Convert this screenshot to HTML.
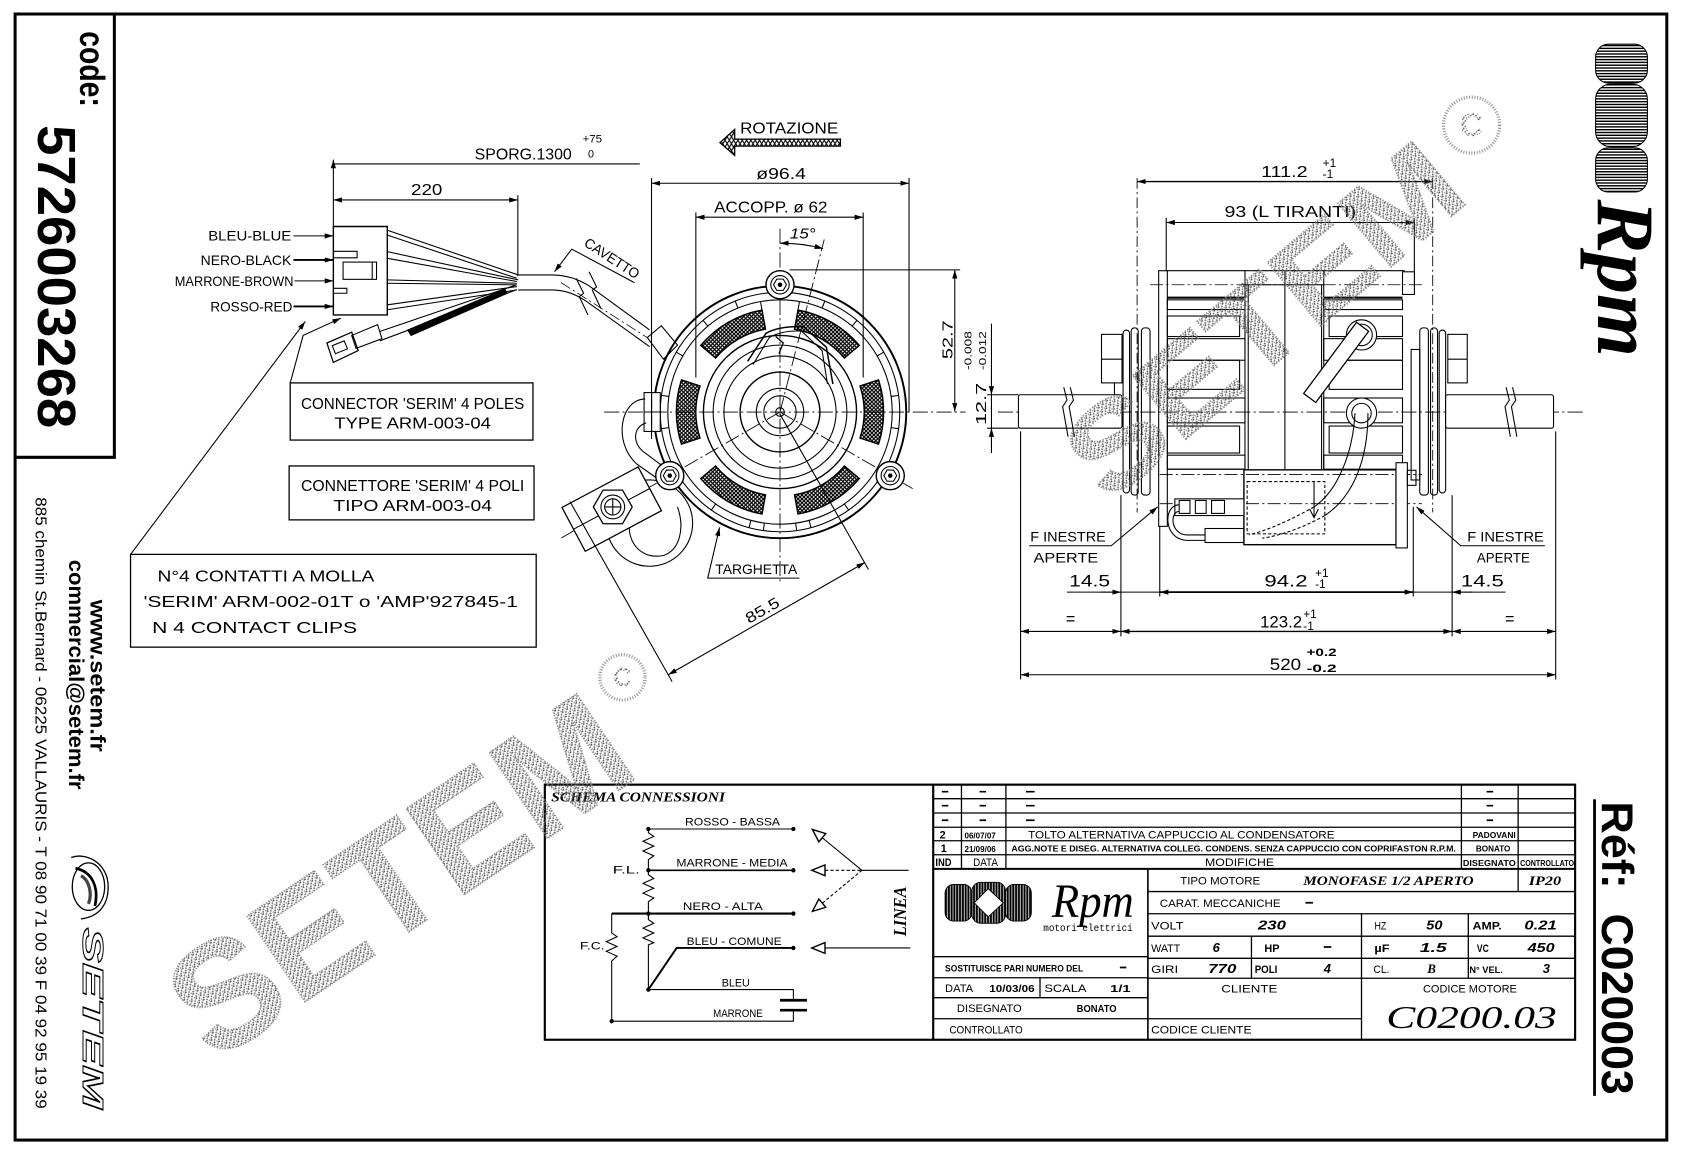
<!DOCTYPE html>
<html><head><meta charset="utf-8">
<style>
html,body{margin:0;padding:0;background:#fff;}
svg{display:block;}
text{font-family:"Liberation Sans",sans-serif;fill:#000;stroke:none;}
.m{font-family:"Liberation Mono",monospace;}
.s{font-family:"Liberation Serif",serif;}
.b{font-weight:bold;}
.i{font-style:italic;}
</style></head><body>
<svg width="1683" height="1153" viewBox="0 0 1560 1069" preserveAspectRatio="none" xmlns="http://www.w3.org/2000/svg">
<defs>
<marker id="a" viewBox="0 0 10 6" refX="10" refY="3" markerWidth="8" markerHeight="4.8" orient="auto-start-reverse" markerUnits="userSpaceOnUse"><path d="M0,0L10,3L0,6z" fill="#000"/></marker>
<pattern id="xh" width="3.6" height="3.6" patternUnits="userSpaceOnUse"><path d="M0,0L3.6,3.6M3.6,0L0,3.6" stroke="#000" stroke-width="1.1"/></pattern>
<pattern id="xh2" width="4" height="6.5" patternUnits="userSpaceOnUse"><path d="M0,0L4,6.5M4,0L0,6.5" stroke="#000" stroke-width="1"/></pattern>
<pattern id="hl" width="4" height="2.6" patternUnits="userSpaceOnUse"><rect width="4" height="1.3" fill="#000"/></pattern>
<pattern id="vl" width="2.6" height="4" patternUnits="userSpaceOnUse"><rect width="2.6" height="4" fill="#000"/><rect x="1.6" width="0.7" height="4" fill="#fff"/></pattern>
<pattern id="st" width="5" height="5" patternUnits="userSpaceOnUse"><rect x="0" y="0" width="1.4" height="1.4" fill="#555"/><rect x="2.5" y="1.5" width="1.4" height="1.4" fill="#666"/><rect x="1" y="3.3" width="1.4" height="1.4" fill="#555"/><rect x="3.8" y="3.8" width="1.1" height="1.1" fill="#777"/><rect x="4" y="0.5" width="0.9" height="0.9" fill="#888"/></pattern>
</defs>

<!-- BORDER -->
<g fill="none" stroke="#000">
<rect x="14" y="13" width="1531" height="1044" stroke-width="2.8"/>
<path d="M106,13V424H14" stroke-width="2.8"/>
<line x1="1478" y1="741" x2="1478" y2="1016" stroke-width="2.6"/>
</g>

<!-- LEFT STRIP TEXT -->
<text transform="translate(74,29) rotate(90)" font-size="33" class="b" textLength="70" lengthAdjust="spacingAndGlyphs">code:</text>
<text transform="translate(35,116) rotate(90)" font-size="50" class="b" textLength="281" lengthAdjust="spacingAndGlyphs">5726003268</text>
<text transform="translate(84,556) rotate(90)" font-size="20" class="b" textLength="141" lengthAdjust="spacingAndGlyphs">www.setem.fr</text>
<text transform="translate(64,519) rotate(90)" font-size="20" class="b" textLength="213" lengthAdjust="spacingAndGlyphs">commercial@setem.fr</text>
<text transform="translate(33,461) rotate(90)" font-size="14.5" textLength="567" lengthAdjust="spacingAndGlyphs">885 chemin St.Bernard  -  06225 VALLAURIS  -  T 08 90 71 00 39   F 04 92 95 19 39</text>
<!-- setem logo -->
<g fill="none" stroke="#000" stroke-width="1.2">
<ellipse cx="82" cy="822" rx="15" ry="22"/>
<path d="M66,795 C80,790 98,800 100,818 C102,838 92,850 75,852"/>
<path d="M70,805 C85,808 92,822 88,840" stroke-width="2.5"/>
<path d="M75,812 C82,815 86,828 82,838" stroke-width="3" stroke="#444"/>
</g>
<text transform="translate(77,860) rotate(90)" font-size="27" class="b i" textLength="168" lengthAdjust="spacingAndGlyphs" style="fill:none;stroke:#000;stroke-width:0.9">SETEM</text>

<!-- RIGHT STRIP -->
<g stroke="#000" stroke-width="1">
<rect x="1479" y="41" width="48" height="36" rx="12" fill="url(#hl)"/>
<rect x="1479" y="78" width="48" height="58" rx="14" fill="url(#hl)"/>
<rect x="1479" y="137" width="48" height="41" rx="12" fill="url(#hl)"/>
</g>
<text transform="translate(1481,185) rotate(90)" font-size="76" class="s i b" textLength="146" lengthAdjust="spacingAndGlyphs">Rpm</text>
<text transform="translate(1485,743) rotate(90)" font-size="41" class="b" textLength="81" lengthAdjust="spacingAndGlyphs">Réf:</text>
<text transform="translate(1485,847) rotate(90)" font-size="41" class="b" textLength="168" lengthAdjust="spacingAndGlyphs">C020003</text>

<!-- CONNECTOR AREA -->
<g fill="none" stroke="#000" stroke-width="1">
<path d="M272,218.7H309" marker-end="url(#a)"/>
<path d="M272,241H309" stroke-width="1.7" marker-end="url(#a)"/>
<path d="M273,260.4H309" marker-end="url(#a)"/>
<path d="M272,284.1H309" stroke-width="1.7" marker-end="url(#a)"/>
<path d="M309,210H359V292H309Z" stroke-width="1.3"/>
<path d="M309,233H331V239H309M309,267.3H321.5V271.9H309"/>
<rect x="318" y="243" width="31" height="16"/>
<path d="M345,243V259"/>
<path d="M358.4,213.2L480.4,254.9M358.4,217.8L479,258M358.4,233.2L480.4,259.5M358.4,239.4L479,261M358.4,259.5L479,262.6M358.4,262.6L479,264.1M358.4,282.7L479,265.7M358.4,287.3L479,268.8"/>
<path d="M352,307.3L479,264M352,316L479,268.5"/>
<polygon points="378,306 468,268 470,272 381,311" fill="#000"/>
<polygon points="303,318 326,308 332,325 309,336" stroke-width="1.2"/>
<rect x="309" y="318" width="12" height="8" transform="rotate(-22 315 322)"/>
<polygon points="326,311 350,301 354,314 330,323"/>
<path d="M480.4,254.9H512Q530,255 546,265L602,305.8"/>
<path d="M480.4,268.8H512Q528,269 543,279L602,321.3"/>
<path d="M520,262L600,313" stroke-dasharray="10 3 2 3" stroke-width="0.7"/>
<path d="M534,258L541,272L537,275L545,292M546,252L553,266L549,269L557,286"/>
<polygon points="600,313 613,302 628,320 615,333" fill="#fff"/>
<path d="M309,148V210M309,152H593" marker-start="url(#a)"/>
<path d="M309,185.4H480" marker-start="url(#a)" marker-end="url(#a)"/>
<path d="M480,181V256"/>
<path d="M269,355L281,311L316,295" marker-end="url(#a)"/>
<path d="M121,514L283,298" marker-end="url(#a)"/>
<path d="M588,262L530,231L514,252" marker-end="url(#a)"/>
<rect x="269" y="355" width="225" height="53" stroke-width="1.2"/>
<rect x="268" y="432" width="227" height="50" stroke-width="1.2"/>
<rect x="121" y="514" width="376" height="86" stroke-width="1.2"/>
</g>
<text x="193" y="223" font-size="13" textLength="77" lengthAdjust="spacingAndGlyphs">BLEU-BLUE</text>
<text x="186" y="245.5" font-size="13" textLength="84" lengthAdjust="spacingAndGlyphs">NERO-BLACK</text>
<text x="162" y="265" font-size="13" textLength="110" lengthAdjust="spacingAndGlyphs">MARRONE-BROWN</text>
<text x="195" y="288.6" font-size="13" textLength="76" lengthAdjust="spacingAndGlyphs">ROSSO-RED</text>
<text x="440" y="148" font-size="14.5" textLength="90" lengthAdjust="spacingAndGlyphs">SPORG.1300</text>
<text x="540" y="132" font-size="10" textLength="18" lengthAdjust="spacingAndGlyphs">+75</text>
<text x="545" y="146" font-size="10">0</text>
<text x="381" y="181" font-size="14.5" textLength="29" lengthAdjust="spacingAndGlyphs">220</text>
<text transform="translate(540.5,227.4) rotate(33)" font-size="13" textLength="58" lengthAdjust="spacingAndGlyphs">CAVETTO</text>
<text x="279" y="379" font-size="14.5" textLength="207" lengthAdjust="spacingAndGlyphs">CONNECTOR 'SERIM' 4 POLES</text>
<text x="310" y="397.5" font-size="14.5" textLength="145" lengthAdjust="spacingAndGlyphs">TYPE ARM-003-04</text>
<text x="279" y="455" font-size="14.5" textLength="207" lengthAdjust="spacingAndGlyphs">CONNETTORE 'SERIM' 4 POLI</text>
<text x="309" y="474" font-size="14.5" textLength="147" lengthAdjust="spacingAndGlyphs">TIPO ARM-003-04</text>
<text x="146" y="539" font-size="14.5" textLength="201" lengthAdjust="spacingAndGlyphs">N°4 CONTATTI A MOLLA</text>
<text x="133" y="563" font-size="14.5" textLength="347" lengthAdjust="spacingAndGlyphs">'SERIM' ARM-002-01T o 'AMP'927845-1</text>
<text x="141" y="587" font-size="14.5" textLength="190" lengthAdjust="spacingAndGlyphs">N  4 CONTACT  CLIPS</text>

<!-- FRONT VIEW -->
<g fill="none" stroke="#000" stroke-width="1">
<g stroke-width="0.8" stroke-dasharray="14 3 2 3">
<path d="M560,382H895"/>
<path d="M723,212V542"/>
<path d="M723,382L764,222"/>
<path d="M723,382L846,453"/>
<path d="M723,382L520,499"/>
</g>
<circle cx="723" cy="382" r="117" stroke-width="1.8"/>
<circle cx="723" cy="382" r="111"/>
<circle cx="723" cy="382" r="104"/>
<circle cx="723" cy="382" r="71" stroke-width="1.3"/>
<circle cx="723" cy="382" r="62"/>
<circle cx="723" cy="382" r="52"/>
<circle cx="723" cy="382" r="37" stroke-width="1.3"/>
<circle cx="723" cy="382" r="22"/>
<circle cx="723" cy="382" r="15"/>
<circle cx="723" cy="382" r="4"/>
<g transform="translate(723,382)">
<path d="M104,0H111" transform="rotate(-150)"/><path d="M104,0H111" transform="rotate(-130)"/>
<path d="M104,0H111" transform="rotate(-112)"/><path d="M104,0H111" transform="rotate(-68)"/>
<path d="M104,0H111" transform="rotate(-50)"/><path d="M104,0H111" transform="rotate(-30)"/>
<path d="M104,0H111" transform="rotate(-8)"/><path d="M104,0H111" transform="rotate(8)"/>
<path d="M104,0H111" transform="rotate(55)"/><path d="M104,0H111" transform="rotate(75)"/>
<path d="M104,0H111" transform="rotate(82)"/><path d="M104,0H111" transform="rotate(98)"/>
<path d="M104,0H111" transform="rotate(105)"/><path d="M104,0H111" transform="rotate(125)"/>
<path d="M104,0H111" transform="rotate(172)"/><path d="M104,0H111" transform="rotate(188)"/>
<path d="M96,0H104" transform="rotate(-100)"/><path d="M96,0H104" transform="rotate(-80)"/>
</g>
<g fill="url(#xh)" stroke-width="1.4">
<path d="M814.3,352.3A96,96 0 0 1 814.3,411.7L797.2,406.1A78,78 0 0 0 797.2,357.9Z"/>
<path d="M631.7,411.7A96,96 0 0 1 631.7,352.3L648.8,357.9A78,78 0 0 0 648.8,406.1Z"/>
<path d="M739.7,287.5A96,96 0 0 1 796.5,320.3L782.7,331.9A78,78 0 0 0 736.5,305.2Z"/>
<path d="M706.3,287.5A96,96 0 0 0 649.5,320.3L663.3,331.9A78,78 0 0 1 709.5,305.2Z"/>
<path d="M796.5,443.7A96,96 0 0 1 739.7,476.5L736.5,458.8A78,78 0 0 0 782.7,432.1Z"/>
<path d="M649.5,443.7A96,96 0 0 0 706.3,476.5L709.5,458.8A78,78 0 0 1 663.3,432.1Z"/>
</g>
<path d="M693,335L710,309Q723,302 745,303L766,322L772,356" stroke-width="1.4"/>
<path d="M698,338L713,313Q725,306 743,307L762,325L767,356"/>
<path d="M719,312L726,318L722,328" stroke-width="1.2"/>
<rect x="597" y="364" width="15" height="36" fill="#fff"/>
<path d="M604,364V400M597,382H612"/>
<path d="M598,370C575,370 568,410 590,430L614,447"/>
<path d="M599,392C586,396 586,412 598,420L618,435"/>
<circle cx="602" cy="485" r="40"/>
<path d="M588,470C575,495 590,520 615,515C630,510 635,490 628,470"/>
<polygon points="613.1,473.5 591.5,432.9 520.9,470.5 542.5,511.1" fill="#fff" stroke-width="1.2"/>
<path d="M531,491L602,453"/>
<polygon points="586,470 577,485.6 559,485.6 550,470 559,454.4 577,454.4" fill="#fff" stroke-width="1.2"/>
<circle cx="568" cy="470" r="11"/><circle cx="568" cy="470" r="7.5"/>
<path d="M560,470H576M568,462V478"/>
<g fill="#fff">
<g transform="translate(723,264)"><circle r="13" stroke-width="1.3"/><circle r="8.5"/><polygon points="6,0 3,5.2 -3,5.2 -6,0 -3,-5.2 3,-5.2"/><circle r="1.6" fill="#000"/></g>
<g transform="translate(825.2,441)"><circle r="13" stroke-width="1.3"/><circle r="8.5"/><polygon points="6,0 3,5.2 -3,5.2 -6,0 -3,-5.2 3,-5.2"/><circle r="1.6" fill="#000"/></g>
<g transform="translate(620.8,441)"><circle r="13" stroke-width="1.3"/><circle r="8.5"/><polygon points="6,0 3,5.2 -3,5.2 -6,0 -3,-5.2 3,-5.2"/><circle r="1.6" fill="#000"/></g>
</g>
<path d="M667.3,132.2L681,120V129H779V135.5H681V144Z" fill="url(#xh2)" stroke-width="1.2"/>
<path d="M603.9,169.9H842.6" marker-start="url(#a)" marker-end="url(#a)"/>
<path d="M603.9,165V407M842.6,165V382"/>
<path d="M645,201.4H800.1" marker-start="url(#a)" marker-end="url(#a)"/>
<path d="M645,197V350M800.1,197V350"/>
<path d="M723,225.5A156,156 0 0 1 763,230.5" marker-start="url(#a)" marker-end="url(#a)"/>
<path d="M885,250.2V381.5" marker-start="url(#a)" marker-end="url(#a)"/>
<path d="M732,250.2H890"/>
<path d="M919,300V420"/>
<path d="M919,350V366" marker-end="url(#a)"/>
<path d="M919,413V397" marker-end="url(#a)"/>
<path d="M915,366H944M915,397H944"/>
<path d="M619.4,625.6L801.7,521.5" marker-start="url(#a)" marker-end="url(#a)"/>
<path d="M805,528L723,384M623,632L528.3,465"/>
<path d="M741,536H656L667,489" marker-end="url(#a)"/>
</g>
<text x="686" y="124" font-size="14.5" textLength="91" lengthAdjust="spacingAndGlyphs">ROTAZIONE</text>
<text x="701" y="166" font-size="14.5" textLength="46" lengthAdjust="spacingAndGlyphs">ø96.4</text>
<text x="662" y="197" font-size="14.5" textLength="105" lengthAdjust="spacingAndGlyphs">ACCOPP. ø 62</text>
<text x="732" y="221" font-size="14" class="i" textLength="24" lengthAdjust="spacingAndGlyphs">15°</text>
<text transform="translate(883,333) rotate(-90)" font-size="14" textLength="36" lengthAdjust="spacingAndGlyphs">52.7</text>
<text transform="translate(900.5,343) rotate(-90)" font-size="9.5" textLength="36" lengthAdjust="spacingAndGlyphs">-0.008</text>
<text transform="translate(914,343) rotate(-90)" font-size="9.5" textLength="36" lengthAdjust="spacingAndGlyphs">-0.012</text>
<text transform="translate(914,394) rotate(-90)" font-size="14" textLength="39" lengthAdjust="spacingAndGlyphs">12.7</text>
<text x="663" y="532" font-size="13" textLength="76" lengthAdjust="spacingAndGlyphs">TARGHETTA</text>
<text transform="translate(709,570) rotate(-29.7)" text-anchor="middle" font-size="14" textLength="34" lengthAdjust="spacingAndGlyphs">85.5</text>

<!-- SIDE VIEW -->
<g fill="none" stroke="#000" stroke-width="1">
<path d="M925,382H1470" stroke-dasharray="14 3 2 3" stroke-width="0.8"/>
<path d="M1054,165V475M1328,165V475" stroke-dasharray="10 3 2 3" stroke-width="0.8"/>
<path d="M1054,168.3H1328" stroke-width="1.3" marker-start="url(#a)" marker-end="url(#a)"/>
<path d="M1081,206.3H1311" marker-start="url(#a)" marker-end="url(#a)"/>
<path d="M1081,202V251M1311,202V265"/>
<rect x="944" y="366" width="96" height="31" rx="2" fill="#fff"/>
<path d="M986,359L989,371L985,377L990,405M992,359L995,371L991,377L996,405"/>
<rect x="1021" y="310" width="19" height="45" fill="#fff"/>
<path d="M1021,333H1040M1033,355V366"/>
<rect x="1041" y="306" width="6" height="151" rx="3"/>
<rect x="1048.5" y="304" width="6.5" height="155" rx="3"/>
<rect x="1058" y="304" width="8" height="155" rx="3"/>
<rect x="1074" y="251" width="8" height="237"/>
<path d="M1081,251H1302"/>
<path d="M1082,276H1154M1227,276H1300" stroke-width="2"/>
<rect x="1082" y="278" width="72" height="9"/>
<rect x="1082" y="293" width="67" height="19"/>
<rect x="1082" y="314" width="72" height="20"/>
<rect x="1082" y="334" width="67" height="27"/>
<rect x="1082" y="369" width="72" height="23"/>
<rect x="1082" y="395" width="67" height="25"/>
<rect x="1082" y="422" width="72" height="13"/>
<rect x="1227" y="278" width="73" height="9"/>
<rect x="1232" y="293" width="68" height="19"/>
<rect x="1227" y="314" width="73" height="20"/>
<rect x="1232" y="334" width="68" height="27"/>
<rect x="1227" y="369" width="73" height="23"/>
<rect x="1232" y="395" width="68" height="25"/>
<rect x="1227" y="422" width="73" height="13"/>
<path d="M1154,251V435M1157,264V435M1225,264V435M1227,251V435M1191,251V435M1154,264H1227"/>
<path d="M1082,435H1153"/>
<rect x="1300" y="252" width="11" height="21" fill="#fff"/>
<rect x="1308" y="324" width="8" height="121"/>
<g stroke-dasharray="12 3 2 3" stroke-width="0.8">
<path d="M1066,264H1318M1075,440H1318M1075,467H1318"/>
</g>
<circle cx="1262" cy="310.5" r="14" fill="#fff"/><circle cx="1262" cy="310.5" r="10"/>
<circle cx="1262" cy="383" r="14" fill="#fff"/><circle cx="1262" cy="383" r="9"/>
<polygon points="1268.6,307.2 1257.4,298.8 1208.4,364.8 1219.6,373.2" fill="#fff" stroke-width="1.2"/>
<path d="M1256,383C1254,420 1240,455 1218,470M1268,383C1268,425 1255,460 1228,478"/>
<path d="M1218,470C1200,480 1180,490 1158,496M1228,478C1210,488 1190,496 1170,499" stroke-dasharray="3 2"/>
<rect x="1153" y="435.6" width="141" height="69.4" stroke-width="1.3"/>
<rect x="1156" y="446.5" width="72" height="48.5" stroke-dasharray="3 2"/>
<path d="M1218,446V480M1214,472L1218,480L1222,472"/>
<rect x="1294" y="429" width="10.5" height="79" fill="#fff"/>
<rect x="1304.5" y="436" width="8" height="14"/>
<rect x="1089" y="462.5" width="64" height="15.5" fill="#fff"/>
<rect x="1093" y="464" width="10" height="12"/><rect x="1108" y="464" width="10" height="12"/><rect x="1123" y="464" width="12" height="12"/>
<path d="M1093,468C1078,468 1078,500 1100,501H1117M1093,474C1084,475 1085,495 1100,496H1117"/>
<rect x="1117" y="490" width="36" height="13"/>
<rect x="1316" y="304" width="8" height="155" rx="3"/>
<rect x="1326" y="304" width="6.5" height="155" rx="3"/>
<rect x="1334" y="306" width="6" height="151" rx="3"/>
<rect x="1342" y="310" width="18" height="45" fill="#fff"/>
<path d="M1342,333H1360"/>
<rect x="1340" y="366" width="100" height="31" rx="2" fill="#fff"/>
<path d="M1396,359L1399,371L1395,377L1400,405M1402,359L1405,371L1401,377L1406,405"/>
<path d="M954,506H1030L1073,470" marker-end="url(#a)"/>
<path d="M1432,506H1354L1313,470" marker-end="url(#a)"/>
<path d="M946,400V630M1442,400V630M1039,459V590M1346,459V590M1075,488V553M1310,470V553"/>
<path d="M989,549H1395.5"/>
<path d="M1020,549H1039" marker-end="url(#a)"/>
<path d="M1365,549H1346" marker-end="url(#a)"/>
<path d="M1075,549H1310" stroke-width="1.6" marker-start="url(#a)" marker-end="url(#a)"/>
<path d="M946,585.4H1039" marker-start="url(#a)" marker-end="url(#a)"/>
<path d="M1039,585.4H1346" stroke-width="1.3" marker-start="url(#a)" marker-end="url(#a)"/>
<path d="M1346,585.4H1442" marker-start="url(#a)" marker-end="url(#a)"/>
<path d="M946,625.6H1442" marker-start="url(#a)" marker-end="url(#a)"/>
</g>
<text x="1169" y="164" font-size="14.5" textLength="43" lengthAdjust="spacingAndGlyphs">111.2</text>
<text x="1226" y="155" font-size="11">+1</text>
<text x="1226" y="165" font-size="11">-1</text>
<text x="1135" y="201" font-size="14.5" textLength="122" lengthAdjust="spacingAndGlyphs">93 (L TIRANTI)</text>
<text x="955" y="502" font-size="13" textLength="70" lengthAdjust="spacingAndGlyphs">F INESTRE</text>
<text x="958" y="521.5" font-size="13" textLength="60" lengthAdjust="spacingAndGlyphs">APERTE</text>
<text x="1360" y="502" font-size="13" textLength="71" lengthAdjust="spacingAndGlyphs">F INESTRE</text>
<text x="1369" y="521.5" font-size="13" textLength="49" lengthAdjust="spacingAndGlyphs">APERTE</text>
<text x="991" y="544" font-size="15" textLength="38" lengthAdjust="spacingAndGlyphs">14.5</text>
<text x="1354" y="544" font-size="15" textLength="40" lengthAdjust="spacingAndGlyphs">14.5</text>
<text x="1172" y="544" font-size="15" textLength="40" lengthAdjust="spacingAndGlyphs">94.2</text>
<text x="1219" y="535" font-size="11">+1</text>
<text x="1219" y="545" font-size="11">-1</text>
<text x="988" y="579" font-size="15">=</text>
<text x="1395" y="579" font-size="15">=</text>
<text x="1168" y="582" font-size="15" textLength="39" lengthAdjust="spacingAndGlyphs">123.2</text>
<text x="1208" y="573" font-size="11">+1</text>
<text x="1208" y="584" font-size="11">-1</text>
<text x="1177" y="621" font-size="15" textLength="29" lengthAdjust="spacingAndGlyphs">520</text>
<text x="1211" y="608" font-size="10" class="b" textLength="28" lengthAdjust="spacingAndGlyphs">+0.2</text>
<text x="1211" y="623" font-size="10" class="b" textLength="28" lengthAdjust="spacingAndGlyphs">-0.2</text>

<!-- TABLE GRID -->
<g stroke="#000" fill="none">
<rect x="505" y="727.5" width="955" height="236.5" stroke-width="2"/>
<path d="M865,727.5V964" stroke-width="2"/>
<path d="M865,740.5H1460M865,753.8H1460M865,767H1460M865,779.5H1460M865,792.5H1460" stroke-width="1.2"/>
<path d="M865,805.6H1460" stroke-width="1.8"/>
<path d="M891.2,727.5V805.6M932.4,727.5V805.6M1354.6,727.5V805.6M1407.2,727.5V805.6" stroke-width="1.2"/>
<path d="M1064,805.6V964" stroke-width="1.5"/>
<path d="M865,887H1064M865,906.5H1064M865,925H1064M865,944.5H1064" stroke-width="1.2"/>
<path d="M964,906.5V925" stroke-width="1.2"/>
<path d="M1064,826.6H1460M1064,847.2H1460M1064,868H1460M1064,888.5H1460M1064,907H1460" stroke-width="1.2"/>
<path d="M1064,944.5H1262" stroke-width="1.2"/>
<path d="M1262,847.2V964M1361,847.2V907M1160,868V907M1407.2,805.6V826.6" stroke-width="1.2"/>
<path d="M873,734H879M908,734H914M951,734H959M873,747H879M908,747H914M951,747H959M873,760.5H879M908,760.5H914M951,760.5H959M1378,734H1384M1378,747H1384M1378,760.5H1384M1210,837H1217M1227,878H1234M1038,897H1044" stroke-width="1.6"/>
</g>
<!-- schematic -->
<g fill="none" stroke="#000" stroke-width="1">
<path d="M601,768.6V772L606,775.5L596,780L606,784.5L596,789L606,793.5L601,797V806.9V811L606,814.5L596,819L606,823.5L596,828L606,832.5L601,836V847V852.6L606,856L596,860.5L606,865L596,869.5L606,874L601,876V917.5"/>
<path d="M601,768.6H735.4"/>
<path d="M601,806.9H735.4" stroke-width="1.5"/>
<path d="M567,847H735.4" stroke-width="2"/>
<path d="M567,847V865L572,868.5L562,873L572,877.5L562,882L572,886.5L567,891V946.8H735.4V936.6"/>
<path d="M601,917.5L627.2,878.9H735.4" stroke-width="1.8"/>
<path d="M601,917.5H735.4V927.4"/>
<path d="M723,927.4H748M723,936.6H748" stroke-width="2.5"/>
<polygon points="753,769 765.4,772.9 759,780.5" stroke-width="1.3"/>
<path d="M762.2,776.7L798.9,806.9H842.2"/>
<polygon points="752.4,806.9 764.7,801.9 764.7,811.9" stroke-width="1.3"/>
<path d="M764.7,806.9H798.9" stroke-dasharray="3 2"/>
<polygon points="753,845 759,833.5 765.4,841.2" stroke-width="1.3"/>
<path d="M762.2,837.4L798.9,806.9" stroke-dasharray="3 2"/>
<polygon points="752.4,878.9 764.7,873.9 764.7,883.9" stroke-width="1.3"/>
<path d="M764.7,878.9H843.7"/>
</g>
<g fill="#000">
<circle cx="601" cy="768.6" r="2"/><circle cx="601" cy="806.9" r="2"/><circle cx="601" cy="847" r="2"/><circle cx="601" cy="917.5" r="2"/><circle cx="567" cy="946.8" r="2"/>
<circle cx="735.4" cy="768.6" r="2"/><circle cx="735.4" cy="806.9" r="2"/><circle cx="735.4" cy="847" r="2"/><circle cx="735.4" cy="878.9" r="2"/>
</g>
<text x="511" y="743" font-size="13" class="s i b" textLength="161" lengthAdjust="spacingAndGlyphs">SCHEMA CONNESSIONI</text>
<text x="635" y="765.5" font-size="10.5" textLength="88" lengthAdjust="spacingAndGlyphs">ROSSO - BASSA</text>
<text x="627" y="803.5" font-size="10.5" textLength="103" lengthAdjust="spacingAndGlyphs">MARRONE - MEDIA</text>
<text x="568" y="810" font-size="10.5" textLength="25" lengthAdjust="spacingAndGlyphs">F.L.</text>
<text x="633" y="843.5" font-size="10.5" textLength="74" lengthAdjust="spacingAndGlyphs">NERO - ALTA</text>
<text x="636.5" y="876" font-size="10.5" textLength="88" lengthAdjust="spacingAndGlyphs">BLEU - COMUNE</text>
<text x="537.5" y="880.5" font-size="10.5" textLength="23" lengthAdjust="spacingAndGlyphs">F.C.</text>
<text x="669" y="914.5" font-size="10.5" textLength="26" lengthAdjust="spacingAndGlyphs">BLEU</text>
<text x="661" y="943" font-size="10.5" textLength="46" lengthAdjust="spacingAndGlyphs">MARRONE</text>
<text transform="translate(840,845) rotate(-90)" text-anchor="middle" font-size="17" class="s i b" textLength="46" lengthAdjust="spacingAndGlyphs">LINEA</text>

<!-- table texts -->
<text x="871" y="777.5" font-size="10" class="b">2</text>
<text x="894" y="777.5" font-size="8" class="b" textLength="29" lengthAdjust="spacingAndGlyphs">06/07/07</text>
<text x="953" y="777.5" font-size="10.5" textLength="284" lengthAdjust="spacingAndGlyphs">TOLTO ALTERNATIVA CAPPUCCIO AL CONDENSATORE</text>
<text x="1365" y="777" font-size="8" class="b" textLength="40" lengthAdjust="spacingAndGlyphs">PADOVANI</text>
<text x="872" y="790" font-size="10" class="b">1</text>
<text x="894" y="790" font-size="8" class="b" textLength="29" lengthAdjust="spacingAndGlyphs">21/09/06</text>
<text x="937.5" y="789.5" font-size="7.5" class="b" textLength="412" lengthAdjust="spacingAndGlyphs">AGG.NOTE E DISEG. ALTERNATIVA COLLEG. CONDENS. SENZA CAPPUCCIO CON COPRIFASTON R.P.M.</text>
<text x="1368" y="789.5" font-size="8" class="b" textLength="32" lengthAdjust="spacingAndGlyphs">BONATO</text>
<text x="867" y="803" font-size="10" class="b" textLength="15" lengthAdjust="spacingAndGlyphs">IND</text>
<text x="902" y="803" font-size="10" textLength="23" lengthAdjust="spacingAndGlyphs">DATA</text>
<text x="1117" y="803" font-size="10" textLength="64" lengthAdjust="spacingAndGlyphs">MODIFICHE</text>
<text x="1356" y="803" font-size="7.5" class="b" textLength="49" lengthAdjust="spacingAndGlyphs">DISEGNATO</text>
<text x="1409" y="803" font-size="7.5" class="b" textLength="50" lengthAdjust="spacingAndGlyphs">CONTROLLATO</text>
<!-- logo in table -->
<g stroke="#000" stroke-width="0.8">
<rect x="876" y="820" width="25" height="34" rx="8" fill="url(#vl)"/>
<rect x="901" y="818" width="31" height="38" rx="8" fill="url(#vl)"/>
<rect x="932" y="820" width="24" height="34" rx="8" fill="url(#vl)"/>
<path d="M903,837L916,824L930,837L916,850Z" fill="#fff"/>
</g>
<text x="975" y="850" font-size="44" class="s i" textLength="76" lengthAdjust="spacingAndGlyphs">Rpm</text>
<text x="967" y="863" font-size="9" class="m" textLength="83" lengthAdjust="spacingAndGlyphs">motori elettrici</text>
<text x="1094" y="820" font-size="10.5" textLength="74" lengthAdjust="spacingAndGlyphs">TIPO MOTORE</text>
<text x="1208" y="820.5" font-size="12" class="s i b" textLength="158" lengthAdjust="spacingAndGlyphs">MONOFASE 1/2 APERTO</text>
<text x="1417" y="820.5" font-size="12" class="s i b" textLength="30" lengthAdjust="spacingAndGlyphs">IP20</text>
<text x="1075" y="841" font-size="10.5" textLength="112" lengthAdjust="spacingAndGlyphs">CARAT. MECCANICHE</text>
<text x="1067" y="862" font-size="10.5" textLength="30" lengthAdjust="spacingAndGlyphs">VOLT</text>
<text x="1166" y="862" font-size="12" class="i b" textLength="26" lengthAdjust="spacingAndGlyphs">230</text>
<text x="1274" y="862" font-size="10.5" textLength="11" lengthAdjust="spacingAndGlyphs">HZ</text>
<text x="1322" y="862" font-size="12" class="i b" textLength="15" lengthAdjust="spacingAndGlyphs">50</text>
<text x="1365" y="862" font-size="10.5" class="b" textLength="27" lengthAdjust="spacingAndGlyphs">AMP.</text>
<text x="1413" y="862" font-size="12" class="i b" textLength="30" lengthAdjust="spacingAndGlyphs">0.21</text>
<text x="1067" y="882.5" font-size="10.5" textLength="27" lengthAdjust="spacingAndGlyphs">WATT</text>
<text x="1124" y="882.5" font-size="12" class="i b">6</text>
<text x="1172" y="882.5" font-size="10.5" class="b" textLength="14" lengthAdjust="spacingAndGlyphs">HP</text>
<text x="1274" y="882.5" font-size="10.5" class="b" textLength="14" lengthAdjust="spacingAndGlyphs">µF</text>
<text x="1316" y="882.5" font-size="12" class="i b" textLength="25" lengthAdjust="spacingAndGlyphs">1.5</text>
<text x="1369" y="882.5" font-size="10.5" class="b" textLength="11" lengthAdjust="spacingAndGlyphs">VC</text>
<text x="1416" y="882.5" font-size="12" class="i b" textLength="25" lengthAdjust="spacingAndGlyphs">450</text>
<text x="1067" y="902" font-size="10.5" textLength="25" lengthAdjust="spacingAndGlyphs">GIRI</text>
<text x="1120" y="902" font-size="12" class="i b" textLength="26" lengthAdjust="spacingAndGlyphs">770</text>
<text x="1163" y="902" font-size="10.5" class="b" textLength="21" lengthAdjust="spacingAndGlyphs">POLI</text>
<text x="1227" y="902" font-size="12" class="i b">4</text>
<text x="1273" y="902" font-size="10.5" textLength="15" lengthAdjust="spacingAndGlyphs">CL.</text>
<text x="1323" y="902" font-size="12" class="s i b">B</text>
<text x="1362" y="902" font-size="8.5" class="b" textLength="31" lengthAdjust="spacingAndGlyphs">N° VEL.</text>
<text x="1430" y="902" font-size="12" class="i b">3</text>
<text x="1132" y="920" font-size="10.5" textLength="52" lengthAdjust="spacingAndGlyphs">CLIENTE</text>
<text x="1067" y="958" font-size="10.5" textLength="93" lengthAdjust="spacingAndGlyphs">CODICE CLIENTE</text>
<text x="1319" y="920" font-size="10.5" textLength="87" lengthAdjust="spacingAndGlyphs">CODICE MOTORE</text>
<text x="1285" y="953" font-size="29" class="s i" textLength="158" lengthAdjust="spacingAndGlyphs">C0200.03</text>
<text x="876" y="900.5" font-size="8.5" class="b" textLength="128" lengthAdjust="spacingAndGlyphs">SOSTITUISCE PARI NUMERO DEL</text>
<text x="876" y="919.5" font-size="10" textLength="26" lengthAdjust="spacingAndGlyphs">DATA</text>
<text x="917" y="919.5" font-size="9" class="b" textLength="42" lengthAdjust="spacingAndGlyphs">10/03/06</text>
<text x="968" y="919.5" font-size="10" textLength="39" lengthAdjust="spacingAndGlyphs">SCALA</text>
<text x="1029" y="919.5" font-size="9.5" class="b" textLength="19" lengthAdjust="spacingAndGlyphs">1/1</text>
<text x="887" y="938.5" font-size="10" textLength="60" lengthAdjust="spacingAndGlyphs">DISEGNATO</text>
<text x="998" y="938.5" font-size="9.5" class="b" textLength="37" lengthAdjust="spacingAndGlyphs">BONATO</text>
<text x="880" y="958" font-size="10" textLength="68" lengthAdjust="spacingAndGlyphs">CONTROLLATO</text>

<!-- WATERMARKS -->
<g font-family="Liberation Sans, sans-serif" font-weight="bold">
<text transform="translate(397,852) rotate(-34)" text-anchor="middle" font-size="140" textLength="480" lengthAdjust="spacingAndGlyphs" style="fill:url(#st);stroke:#888;stroke-width:1.5;stroke-dasharray:1 1.5">SETEM</text>
<text transform="translate(1196,326) rotate(-40)" text-anchor="middle" font-size="112" textLength="440" lengthAdjust="spacingAndGlyphs" style="fill:url(#st);stroke:#888;stroke-width:1.5;stroke-dasharray:1 1.5">SETEM</text>
</g>
<g fill="none" stroke="#999" stroke-width="3" stroke-dasharray="1 1.5">
<circle cx="577" cy="628" r="21"/>
<circle cx="1364" cy="116" r="26"/>
</g>
<text x="577" y="636" text-anchor="middle" font-size="24" class="b" style="fill:url(#st)">C</text>
<text x="1364" y="126" text-anchor="middle" font-size="30" class="b" style="fill:url(#st)">C</text>
</svg>
</body></html>
